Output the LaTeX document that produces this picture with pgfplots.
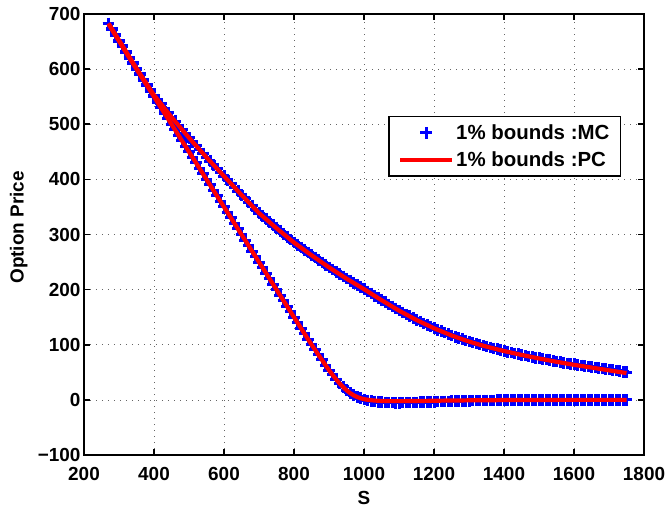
\documentclass[border=0pt]{standalone}
\usepackage{fontspec}
\setmainfont{Liberation Sans}
\usepackage{pgfplots}
\usepackage{pgfplotstable}
\pgfplotsset{compat=1.18}
\pgfplotsset{wideleg/.style={legend image code/.code={\draw[mark repeat=2,mark phase=2,##1] plot coordinates {(0bp,0bp) (26bp,0bp) (52bp,0bp)};}}}
\newcommand\ff{\fontsize{19}{22}\selectfont\bfseries}
\newcommand\lf{\fontsize{20.5}{23}\selectfont\bfseries}
\pgfplotstableread{
S U L Umc Lmc
270 683.0 682.0 683.0 682.0
280 672.8 671.5 672.8 671.5
290 662.6 661.0 662.6 661.0
300 652.4 651.0 652.4 651.0
310 642.2 640.5 642.2 640.5
320 632.0 630.0 632.0 630.0
330 621.8 620.0 621.8 620.0
340 611.6 610.0 611.6 610.0
350 601.4 600.0 601.4 600.0
360 591.7 590.0 591.7 590.0
370 582.0 580.0 582.0 580.0
380 572.3 570.0 572.3 570.0
390 562.6 560.0 562.6 560.0
400 552.9 550.0 552.9 550.0
410 544.9 540.0 544.9 540.0
420 536.9 530.0 536.9 530.0
430 528.9 520.0 528.9 520.0
440 520.9 510.0 520.9 510.0
450 512.9 500.0 512.9 500.0
460 505.4 490.0 505.4 490.0
470 497.9 480.0 497.9 480.0
480 490.4 470.0 490.4 470.0
490 482.9 460.0 482.9 460.0
500 475.4 450.0 475.4 450.0
510 468.3 440.0 468.3 440.0
520 461.2 430.0 461.2 430.0
530 454.1 420.0 454.1 420.0
540 447.0 410.0 447.0 410.0
550 439.9 400.0 439.9 400.0
560 433.1 390.0 433.1 390.0
570 426.3 380.0 426.3 380.0
580 419.5 370.0 419.5 370.0
590 412.7 360.0 412.7 360.0
600 405.9 350.0 405.9 350.0
610 399.1 340.0 399.1 340.0
620 392.3 330.0 392.3 330.0
630 385.5 320.0 385.5 320.0
640 378.7 310.0 378.7 310.0
650 371.9 300.0 371.9 300.0
660 365.3 290.0 365.3 290.0
670 358.7 280.0 358.7 280.0
680 352.1 270.0 352.1 270.0
690 345.5 260.0 345.5 260.0
700 338.9 250.0 338.9 250.0
710 333.4 240.0 333.4 240.0
720 327.9 230.0 327.9 230.0
730 322.4 220.0 322.4 220.0
740 316.9 210.0 316.9 210.0
750 311.4 200.0 311.4 200.0
760 306.2 190.0 306.2 190.0
770 301.0 180.0 301.0 180.0
780 295.8 170.0 295.8 170.0
790 290.6 160.0 290.6 160.0
800 285.4 150.0 285.4 150.0
810 280.8 140.0 280.8 140.0
820 276.2 130.0 276.2 130.0
830 271.6 120.0 271.6 120.0
840 267.0 110.2 267.0 110.2
850 262.4 100.5 262.4 100.5
860 258.0 91.0 258.0 91.0
870 253.6 81.5 253.6 81.5
880 249.2 72.5 249.2 72.5
890 244.8 63.0 244.8 63.0
900 240.4 54.0 240.4 54.0
910 236.3 45.5 236.3 45.5
920 232.2 37.5 232.2 37.5
930 228.1 30.0 228.1 30.0
940 224.0 23.5 224.0 23.5
950 219.9 17.5 219.9 17.5
960 216.1 12.5 216.1 12.5
970 212.3 8.5 212.3 8.5
980 208.5 5.3 208.5 5.3
990 204.7 3.0 204.7 3.0
1000 200.9 1.3 200.9 0.5
1010 196.9 0.2 196.9 -1.0
1020 192.9 -0.6 192.9 -2.0
1030 188.9 -1.2 188.9 -3.0
1040 184.9 -1.6 184.9 -3.8
1050 180.9 -1.9 180.9 -4.3
1060 177.1 -2.1 177.1 -4.7
1070 173.3 -2.2 173.3 -5.0
1080 169.5 -2.3 169.5 -5.1
1090 165.7 -2.3 165.7 -5.2
1100 161.9 -2.3 161.9 -5.2
1110 158.5 -2.3 158.5 -5.1
1120 155.1 -2.2 155.1 -5.0
1130 151.7 -2.2 151.7 -4.9
1140 148.3 -2.1 148.3 -4.7
1150 144.9 -2.0 144.9 -4.5
1160 141.9 -1.9 141.9 -4.3
1170 138.9 -1.9 138.9 -4.1
1180 135.9 -1.8 135.9 -3.9
1190 132.9 -1.7 132.9 -3.7
1200 129.9 -1.6 129.9 -3.5
1210 127.3 -1.5 127.3 -3.3
1220 124.7 -1.4 124.7 -3.1
1230 122.1 -1.3 122.1 -2.9
1240 119.5 -1.2 119.5 -2.7
1250 116.9 -1.2 116.9 -2.5
1260 114.6 -1.1 114.6 -2.3
1270 112.4 -1.0 112.4 -2.1
1280 110.2 -1.0 110.2 -1.9
1290 108.0 -0.9 108.0 -1.7
1300 105.8 -0.8 105.8 -1.5
1310 103.9 -0.8 103.9 -1.4
1320 102.0 -0.7 102.0 -1.3
1330 100.2 -0.7 100.2 -1.2
1340 98.4 -0.6 98.4 -1.1
1350 96.6 -0.6 96.6 -1.0
1360 95.0 -0.5 95.0 -0.9
1370 93.4 -0.5 93.4 -0.8
1380 91.8 -0.5 91.8 -0.7
1390 90.2 -0.4 90.2 -0.7
1400 88.6 -0.4 88.6 -0.6
1410 87.2 -0.4 87.2 -0.5
1420 85.8 -0.3 85.8 -0.5
1430 84.4 -0.3 84.4 -0.4
1440 83.0 -0.3 83.0 -0.4
1450 81.6 -0.3 81.6 -0.4
1460 80.3 -0.2 80.3 -0.3
1470 79.0 -0.2 79.0 -0.3
1480 77.7 -0.2 77.7 -0.3
1490 76.4 -0.2 76.4 -0.3
1500 75.1 -0.2 75.6 -0.3
1510 73.9 -0.1 74.4 -0.2
1520 72.7 -0.1 73.2 -0.2
1530 71.5 -0.1 72.0 -0.2
1540 70.3 -0.1 70.8 -0.2
1550 69.1 -0.1 69.6 -0.2
1560 68.0 0.0 68.5 -0.1
1570 66.9 0.0 67.4 -0.1
1580 65.8 0.0 66.3 -0.1
1590 64.7 0.0 65.2 -0.1
1600 63.6 0.0 64.6 -0.1
1610 62.6 0.0 63.6 0.0
1620 61.6 0.0 62.6 0.0
1630 60.6 0.0 61.6 0.0
1640 59.6 0.0 60.6 0.0
1650 58.6 0.0 59.6 0.0
1660 57.6 0.0 58.6 0.0
1670 56.6 0.0 57.6 0.0
1680 55.6 0.0 56.6 0.0
1690 54.6 0.0 55.6 0.0
1700 53.6 0.0 55.1 0.0
1710 52.6 0.0 54.1 0.0
1720 51.6 0.0 53.1 0.0
1730 50.6 0.0 52.1 0.0
1740 49.6 0.0 51.1 0.0
1750 48.6 0.0 50.1 0.0
}\data
\begin{document}
\begin{tikzpicture}
\begin{axis}[
  name=ax, scale only axis, width=560bp, height=441bp,
  xmin=200, xmax=1800, ymin=-100, ymax=700,
  clip mode=individual,
  xtick={200,400,...,1800},
  xticklabels={200,400,600,800,1000,1200,1400,1600,1800},
  ytick={-100,0,...,700},
  yticklabels={−100,0,100,200,300,400,500,600,700},
  tick align=inside, major tick length=6bp,
  every tick/.style={black, line width=1.5bp},
  axis line style={black, line width=1.8bp},
  grid=major, grid style={black!60, line width=0.7bp, dash pattern=on 0.8bp off 5.2bp},
  ticklabel style={font=\ff},
  xticklabel style={inner ysep=12.5bp},
  label style={font=\ff},
  xlabel={S}, ylabel={Option Price},
  xlabel style={at={(axis description cs:0.5,0)}, anchor=north, inner ysep=3bp, yshift=-33bp},
  ylabel shift=3.5bp,
  ylabel style={at={(ticklabel cs:0.516)}},
  legend style={at={(rel axis cs:0.959,0.769)}, anchor=north east, draw=black, line width=1.4bp, font=\lf, fill=white, inner xsep=9bp, inner ysep=6bp, row sep=7bp},
  legend cell align=left,
]
\addplot[only marks, mark=+, mark size=5.8bp, blue, line width=3bp, wideleg]
  table[x=S,y=Lmc]{\data};
\addlegendentry{1\% bounds :MC}
\addplot[only marks, mark=+, mark size=5.8bp, blue, line width=3bp, forget plot]
  table[x=S,y=Umc]{\data};
\addplot[red, line width=4.2bp, no marks, wideleg]
  table[x=S,y=L]{\data};
\addlegendentry{1\% bounds :PC}
\addplot[red, line width=4.2bp, no marks, forget plot]
  table[x=S,y=U]{\data};
\end{axis}
\pgfresetboundingbox
\path[use as bounding box] (ax.south west) ++(-84bp,-51bp) rectangle ++(667bp,506bp);
\end{tikzpicture}
\end{document}
